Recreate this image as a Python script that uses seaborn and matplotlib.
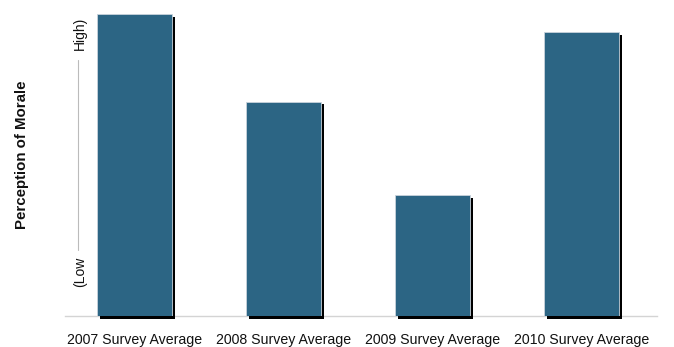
import matplotlib
matplotlib.use("Agg")
import matplotlib.pyplot as plt
import matplotlib.transforms as mtransforms
from matplotlib import font_manager as fm
import seaborn as sns
import pandas as pd

categories = ["2007 Survey Average", "2008 Survey Average", "2009 Survey Average", "2010 Survey Average"]
values = [100, 71, 40, 94]

sns.set_style("white")
names = {f.name for f in fm.fontManager.ttflist}
cond = [n for n in ["Liberation Sans Narrow", "DejaVu Sans Condensed"] if n in names]
plt.rcParams['font.family'] = ['Liberation Sans', 'DejaVu Sans']

df = pd.DataFrame({"cat": categories, "val": values})

fig = plt.figure(figsize=(6.74, 3.47), dpi=100)
ax = fig.add_axes([65/674, 1-316/347, (657-65)/674, (316-14)/347])

# shadow bars
sns.barplot(data=df, x="cat", y="val", ax=ax, color="black", saturation=1, width=0.5, linewidth=0)
n_sh = len(ax.patches)
off = mtransforms.ScaledTranslation(3/100, -2.5/100, fig.dpi_scale_trans)
for p in ax.patches[:n_sh]:
    p.set_transform(ax.transData + off)
    p.set_clip_on(False)
# main bars
sns.barplot(data=df, x="cat", y="val", ax=ax, color="#2C6584", saturation=1,
            width=0.5, edgecolor="#c9d3dc", linewidth=0.6)

ax.set_xlim(-0.466, 3.507)
ax.set_ylim(0, 100)
for s in ["top", "right", "left"]:
    ax.spines[s].set_visible(False)
ax.spines["bottom"].set_color("#d4d4d4")
ax.spines["bottom"].set_linewidth(1)
ax.spines["bottom"].set_zorder(0.5)
ax.set_yticks([])
ax.set_xlabel("")
ax.set_ylabel("")
ax.tick_params(axis="x", length=0, pad=12)
for t in ax.get_xticklabels():
    t.set_color("#111111")
    if cond:
        t.set_family(cond[0])
        t.set_fontsize(12)
    else:
        t.set_fontsize(10.2)

# y-axis annotations
fig.text(22/674, 1-155/347, "Perception of Morale", rotation=90, ha="center", va="center",
         fontsize=10.8, fontweight="bold", color="#111111")
fig.text(80/674, 1-33/347, "High)", rotation=90, ha="center", va="center", fontsize=10, color="#111111")
fig.text(80/674, 1-272/347, "(Low", rotation=90, ha="center", va="center", fontsize=10, color="#111111")
fig.add_artist(plt.Line2D([78/674, 78/674], [1-60/347, 1-250/347], color="#bbbbbb", lw=0.8,
                          transform=fig.transFigure))

fig.savefig("out.png", dpi=100)
